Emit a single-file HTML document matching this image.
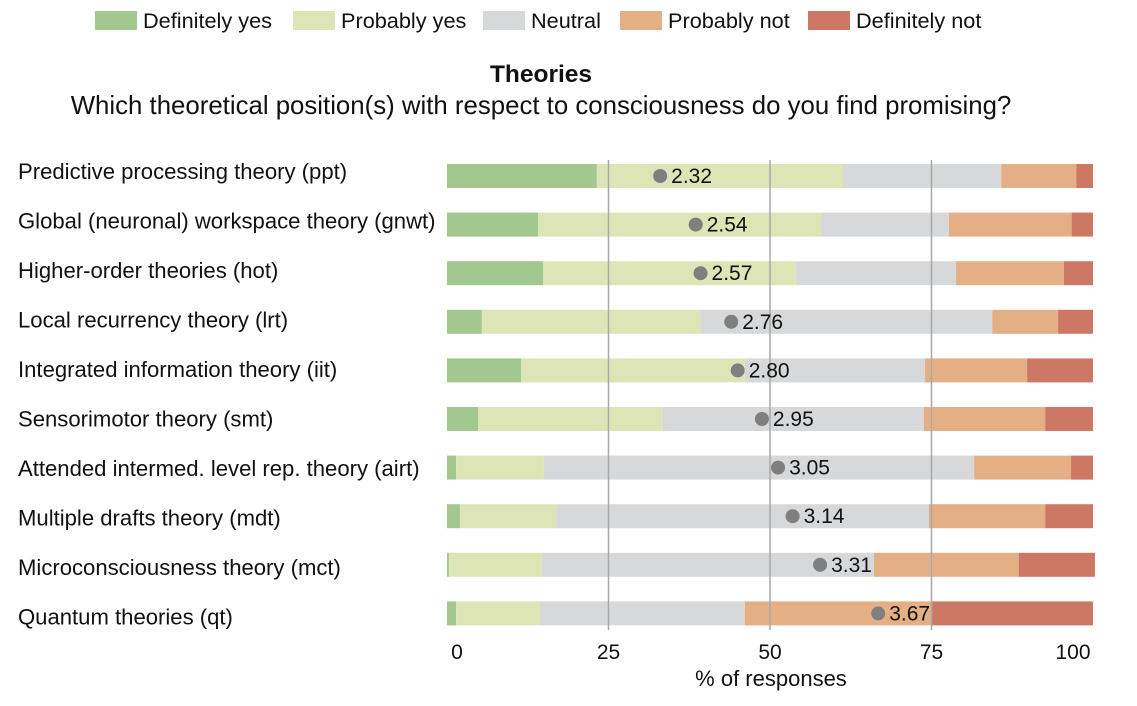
<!DOCTYPE html>
<html><head><meta charset="utf-8"><style>
body{margin:0;background:#fff;font-family:"Liberation Sans",Arial,sans-serif;}
svg text{font-family:"Liberation Sans",Arial,sans-serif;fill:#111;}
</style></head><body>
<svg id="chart" width="1137" height="701" xmlns="http://www.w3.org/2000/svg">
<g id="legend"></g>
<text x="541" y="82" text-anchor="middle" font-size="24.5" font-weight="bold">Theories</text>
<text x="541" y="114" text-anchor="middle" font-size="25.8">Which theoretical position(s) with respect to consciousness do you find promising?</text>
<g id="bars"></g>
<g id="axis"></g>
<text x="771" y="686" text-anchor="middle" font-size="22">% of responses</text>
</svg>
<script>
const categories=["Predictive processing theory (ppt)","Global (neuronal) workspace theory (gnwt)","Higher-order theories (hot)","Local recurrency theory (lrt)","Integrated information theory (iit)","Sensorimotor theory (smt)","Attended intermed. level rep. theory (airt)","Multiple drafts theory (mdt)","Microconsciousness theory (mct)","Quantum theories (qt)"];
const definitelyYes=[23.2,14.1,14.9,5.4,11.5,4.8,1.4,2.0,0.3,1.4];
const probablyYes=[38.1,43.8,39.1,33.8,34.6,28.6,13.6,14.9,14.4,13.0];
const neutral=[24.5,19.8,24.8,45.2,27.9,40.4,66.6,57.7,51.4,31.7];
const probablyNot=[11.6,19.0,16.7,10.2,15.8,18.8,15.0,18.0,22.4,29.0];
const definitelyNot=[2.6,3.3,4.5,5.4,10.2,7.4,3.4,7.4,11.8,24.9];
const means=[2.32,2.54,2.57,2.76,2.80,2.95,3.05,3.14,3.31,3.67];
const ticks=[0,25,50,75,100];
const seriesNames=["Definitely yes","Probably yes","Neutral","Probably not","Definitely not"];
const colors=["#a2c78f","#dde5b7","#d7d8da","#e5af86","#cd7765"];
const NS="http://www.w3.org/2000/svg";
const x=v=>447+v*6.46;
const y=i=>176+i*48.6;
const ly=i=>171+i*49.5;
function mk(t,a,p){const e=document.createElementNS(NS,t);for(const k in a)e.setAttribute(k,a[k]);p.appendChild(e);return e;}
const leg=document.getElementById('legend');
const legX=[95,293,483,620,808];
seriesNames.forEach((n,j)=>{
 const r=mk('rect',{x:legX[j],y:11,width:42,height:19,fill:colors[j]},leg);
 
 
 const t=mk('text',{x:legX[j]+48,y:28,'font-size':21.7},leg);t.textContent=n;
 
 
});
const bars=document.getElementById('bars');
const series=[definitelyYes,probablyYes,neutral,probablyNot,definitelyNot];
categories.forEach((c,i)=>{
 const lab=mk('text',{x:18,y:ly(i)+8,'font-size':22.1},bars);lab.textContent=c;
 
 
 let acc=0;
 series.forEach((s,j)=>{
  const r=mk('rect',{x:x(acc),y:y(i)-12,width:Math.max(0,x(acc+s[i])-x(acc)),height:24,fill:colors[j]},bars);
  
  
  acc+=s[i];
 });
});
const ax=document.getElementById('axis');
ticks.forEach(t=>{
 if(t>0&&t<100){const l=mk('line',{x1:x(t),x2:x(t),y1:160,y2:630,stroke:'#a8a8a8','stroke-width':1.5},ax);
 
 }
 const tx=mk('text',{x:t===0?x(t)+10:(t===100?x(t)-20:x(t)),y:659,'font-size':21,'text-anchor':'middle'},ax);tx.textContent=t;
 
 
});
means.forEach((m,i)=>{
 const cx=x((m-1)/4*100);
 const d=mk('circle',{cx:cx,cy:y(i),r:7,fill:'#7f7f7f'},ax);
 
 
 const t=mk('text',{x:cx+11,y:y(i)+7,'font-size':21},ax);t.textContent=m.toFixed(2);
 
 
});
</script>
</body></html>
